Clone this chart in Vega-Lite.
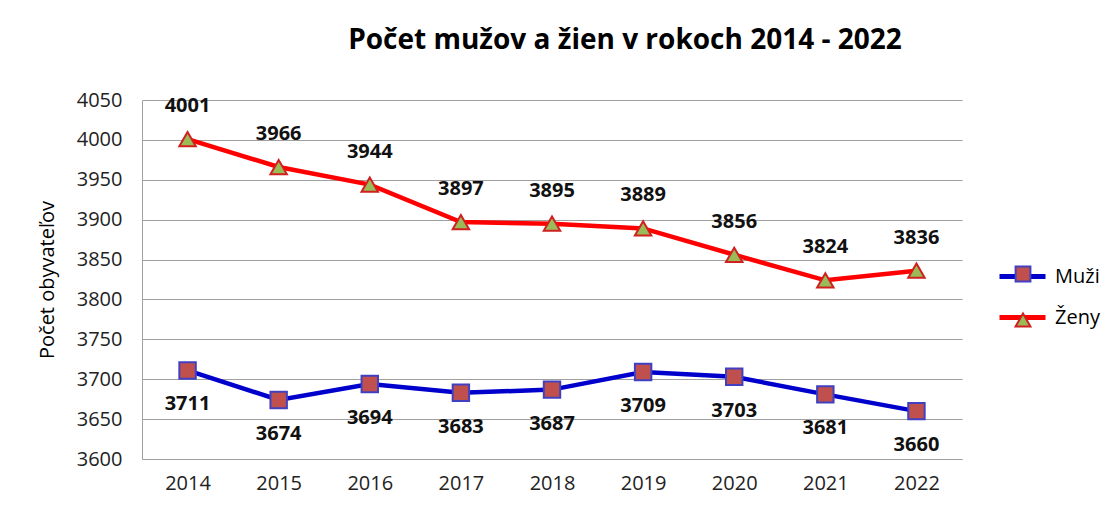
{
  "$schema": "https://vega.github.io/schema/vega-lite/v6.json",
  "autosize": "none",
  "width": 820,
  "height": 359,
  "padding": {"left": 142, "top": 100, "right": 150, "bottom": 52},
  "background": "white",
  "config": {
    "font": "Open Sans",
    "view": {"stroke": null},
    "axis": {"labelFont": "Open Sans", "titleFont": "Open Sans"}
  },
  "title": {
    "text": "Počet mužov a žien v rokoch 2014 - 2022",
    "fontSize": 28,
    "fontWeight": "bold",
    "color": "#000000",
    "anchor": "middle",
    "dx": 73,
    "offset": 35
  },
  "data": {
    "values": [
      {"year": "2014", "series": "Muži", "value": 3711},
      {"year": "2015", "series": "Muži", "value": 3674},
      {"year": "2016", "series": "Muži", "value": 3694},
      {"year": "2017", "series": "Muži", "value": 3683},
      {"year": "2018", "series": "Muži", "value": 3687},
      {"year": "2019", "series": "Muži", "value": 3709},
      {"year": "2020", "series": "Muži", "value": 3703},
      {"year": "2021", "series": "Muži", "value": 3681},
      {"year": "2022", "series": "Muži", "value": 3660},
      {"year": "2014", "series": "Ženy", "value": 4001},
      {"year": "2015", "series": "Ženy", "value": 3966},
      {"year": "2016", "series": "Ženy", "value": 3944},
      {"year": "2017", "series": "Ženy", "value": 3897},
      {"year": "2018", "series": "Ženy", "value": 3895},
      {"year": "2019", "series": "Ženy", "value": 3889},
      {"year": "2020", "series": "Ženy", "value": 3856},
      {"year": "2021", "series": "Ženy", "value": 3824},
      {"year": "2022", "series": "Ženy", "value": 3836}
    ]
  },
  "encoding": {
    "x": {
      "field": "year",
      "type": "ordinal",
      "scale": {"type": "point", "padding": 0.5},
      "axis": {
        "title": null,
        "labelAngle": 0,
        "labelFontSize": 20,
        "labelColor": "#222222",
        "labelPadding": 14,
        "ticks": false,
        "domain": true,
        "domainColor": "#A0A0A0",
        "grid": false
      }
    },
    "y": {
      "field": "value",
      "type": "quantitative",
      "scale": {"domain": [3600, 4050], "nice": false, "zero": false},
      "axis": {
        "title": "Počet obyvateľov",
        "titleFontSize": 20,
        "titleFontWeight": "normal",
        "titleColor": "#000000",
        "titlePadding": 19,
        "format": "d",
        "values": [3600, 3650, 3700, 3750, 3800, 3850, 3900, 3950, 4000, 4050],
        "labelFontSize": 20,
        "labelColor": "#222222",
        "labelPadding": 20,
        "ticks": false,
        "domain": true,
        "domainColor": "#A0A0A0",
        "grid": true,
        "gridColor": "#A0A0A0",
        "gridWidth": 1
      }
    }
  },
  "layer": [
    {
      "mark": {"type": "line", "strokeWidth": 4.5},
      "encoding": {
        "color": {
          "field": "series",
          "type": "nominal",
          "scale": {"domain": ["Muži", "Ženy"], "range": ["#0000CC", "#FF0000"]},
          "legend": {
            "title": null,
            "orient": "none",
            "legendX": 855,
            "legendY": 151,
            "padding": 0,
            "symbolType": "stroke",
            "symbolSize": 2116,
            "symbolStrokeWidth": 5,
            "rowPadding": 5,
            "labelFontSize": 20,
            "labelColor": "#000000",
            "labelOffset": 7
          }
        }
      }
    },
    {
      "mark": {"type": "point", "filled": true, "strokeWidth": 2, "opacity": 1, "size": 270},
      "encoding": {
        "shape": {
          "field": "series",
          "type": "nominal",
          "scale": {"range": ["square", "triangle-up"]},
          "legend": {
            "title": null,
            "orient": "none",
            "legendX": 871,
            "legendY": 164,
            "padding": 0,
            "symbolSize": 220,
            "symbolStrokeWidth": 2,
            "rowPadding": 23,
            "labelFontSize": 20,
            "labelExpr": "''"
          }
        },
        "fill": {
          "field": "series",
          "type": "nominal",
          "scale": {"range": ["#C0504D", "#9BBB59"]}
        },
        "stroke": {
          "field": "series",
          "type": "nominal",
          "scale": {"range": ["#4040C0", "#D02020"]}
        }
      }
    },
    {
      "transform": [{"filter": "datum.series === 'Ženy'"}],
      "mark": {"type": "text", "fontSize": 20, "fontWeight": "bold", "color": "#111111", "baseline": "middle", "dy": -33},
      "encoding": {"text": {"field": "value", "type": "quantitative"}}
    },
    {
      "transform": [{"filter": "datum.series === 'Muži'"}],
      "mark": {"type": "text", "fontSize": 20, "fontWeight": "bold", "color": "#111111", "baseline": "middle", "dy": 34},
      "encoding": {"text": {"field": "value", "type": "quantitative"}}
    }
  ]
}
